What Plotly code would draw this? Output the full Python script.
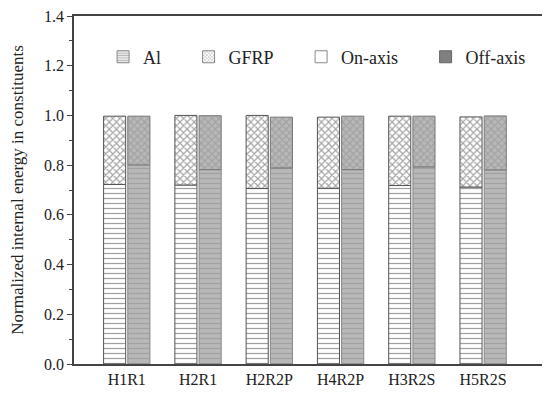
import plotly.graph_objects as go

categories = ["H1R1", "H2R1", "H2R2P", "H4R2P", "H3R2S", "H5R2S"]
on_al = [0.722, 0.720, 0.706, 0.707, 0.718, 0.712]
on_total = [0.997, 1.000, 1.000, 0.993, 0.997, 0.994]
off_al = [0.801, 0.782, 0.789, 0.782, 0.793, 0.781]
off_total = [0.997, 0.999, 0.993, 0.997, 0.997, 0.998]
legend_names = ["Al", "GFRP", "On-axis", "Off-axis"]

on_gfrp = [t - a for t, a in zip(on_total, on_al)]
off_gfrp = [t - a for t, a in zip(off_total, off_al)]

W = 0.31
LINE = dict(color="#555555", width=1)
FONT = "Liberation Serif, Times New Roman, Times, serif"
fig = go.Figure()

# On-axis
fig.add_trace(go.Bar(x=categories, y=on_al, offset=-0.325, width=W, showlegend=False,
                     marker=dict(color="white", line=LINE,
                                 pattern=dict(shape="-", fgcolor="#444444", bgcolor="white", size=5, solidity=0.25))))
fig.add_trace(go.Bar(x=categories, y=on_gfrp, base=on_al, offset=-0.325, width=W, showlegend=False,
                     marker=dict(color="white", line=LINE,
                                 pattern=dict(shape="x", fgcolor="#444444", bgcolor="white", size=5, solidity=0.4))))
# Off-axis
fig.add_trace(go.Bar(x=categories, y=off_al, offset=0.015, width=W, showlegend=False,
                     marker=dict(color="#b4b4b4", line=dict(color="#888888", width=1),
                                 pattern=dict(shape="-", fgcolor="#8a8a8a", bgcolor="#b8b8b8", size=5, solidity=0.25))))
fig.add_trace(go.Bar(x=categories, y=off_gfrp, base=off_al, offset=0.015, width=W, showlegend=False,
                     marker=dict(color="#b4b4b4", line=dict(color="#777777", width=1),
                                 pattern=dict(shape="x", fgcolor="#8a8a8a", bgcolor="#b8b8b8", size=5, solidity=0.4))))

# Legend entries
legend_markers = [
    dict(color="#dddddd", line=dict(color="#888888", width=1),
         pattern=dict(shape="-", fgcolor="#777777", bgcolor="#e8e8e8", size=3, solidity=0.3)),
    dict(color="white", line=dict(color="#888888", width=1),
         pattern=dict(shape="x", fgcolor="#777777", bgcolor="white", size=3, solidity=0.4)),
    dict(color="white", line=dict(color="#888888", width=1)),
    dict(color="#808080", line=dict(color="#666666", width=1)),
]
PAD = "\u00a0" * 5
for i, (name, mk) in enumerate(zip(legend_names, legend_markers)):
    label = name + (PAD if i < len(legend_names) - 1 else "")
    fig.add_trace(go.Bar(x=[None], y=[None], name=label, marker=mk, showlegend=True))

fig.update_layout(
    width=542, height=386,
    margin=dict(l=66, r=7, t=8, b=30),
    paper_bgcolor="white", plot_bgcolor="white",
    barmode="overlay",
    font=dict(family=FONT, size=16, color="#222222"),
    legend=dict(orientation="h", x=0.062, y=0.882, xanchor="left", yanchor="middle",
                font=dict(size=18), itemwidth=30, tracegroupgap=0, bgcolor="rgba(0,0,0,0)"),
)
fig.update_xaxes(range=[-0.74, 5.84], showline=True, linecolor="#444444", linewidth=1.5, mirror=True,
                 ticks="", showgrid=False, zeroline=False, tickfont=dict(size=16), automargin=False)
fig.update_yaxes(range=[0, 1.4], dtick=0.2, tickformat=".1f", showline=True, linecolor="#444444",
                 linewidth=1.5, mirror=True, ticks="outside", ticklen=5, tickcolor="#444444",
                 minor=dict(dtick=0.1, ticks="outside", ticklen=3, tickcolor="#444444"),
                 showgrid=False, zeroline=False, tickfont=dict(size=16), automargin=False,
                 ticklabeloverflow="allow",
                 title=dict(text="Normalized internal energy in constituents", font=dict(size=17), standoff=16))

fig.write_html("out.html")
